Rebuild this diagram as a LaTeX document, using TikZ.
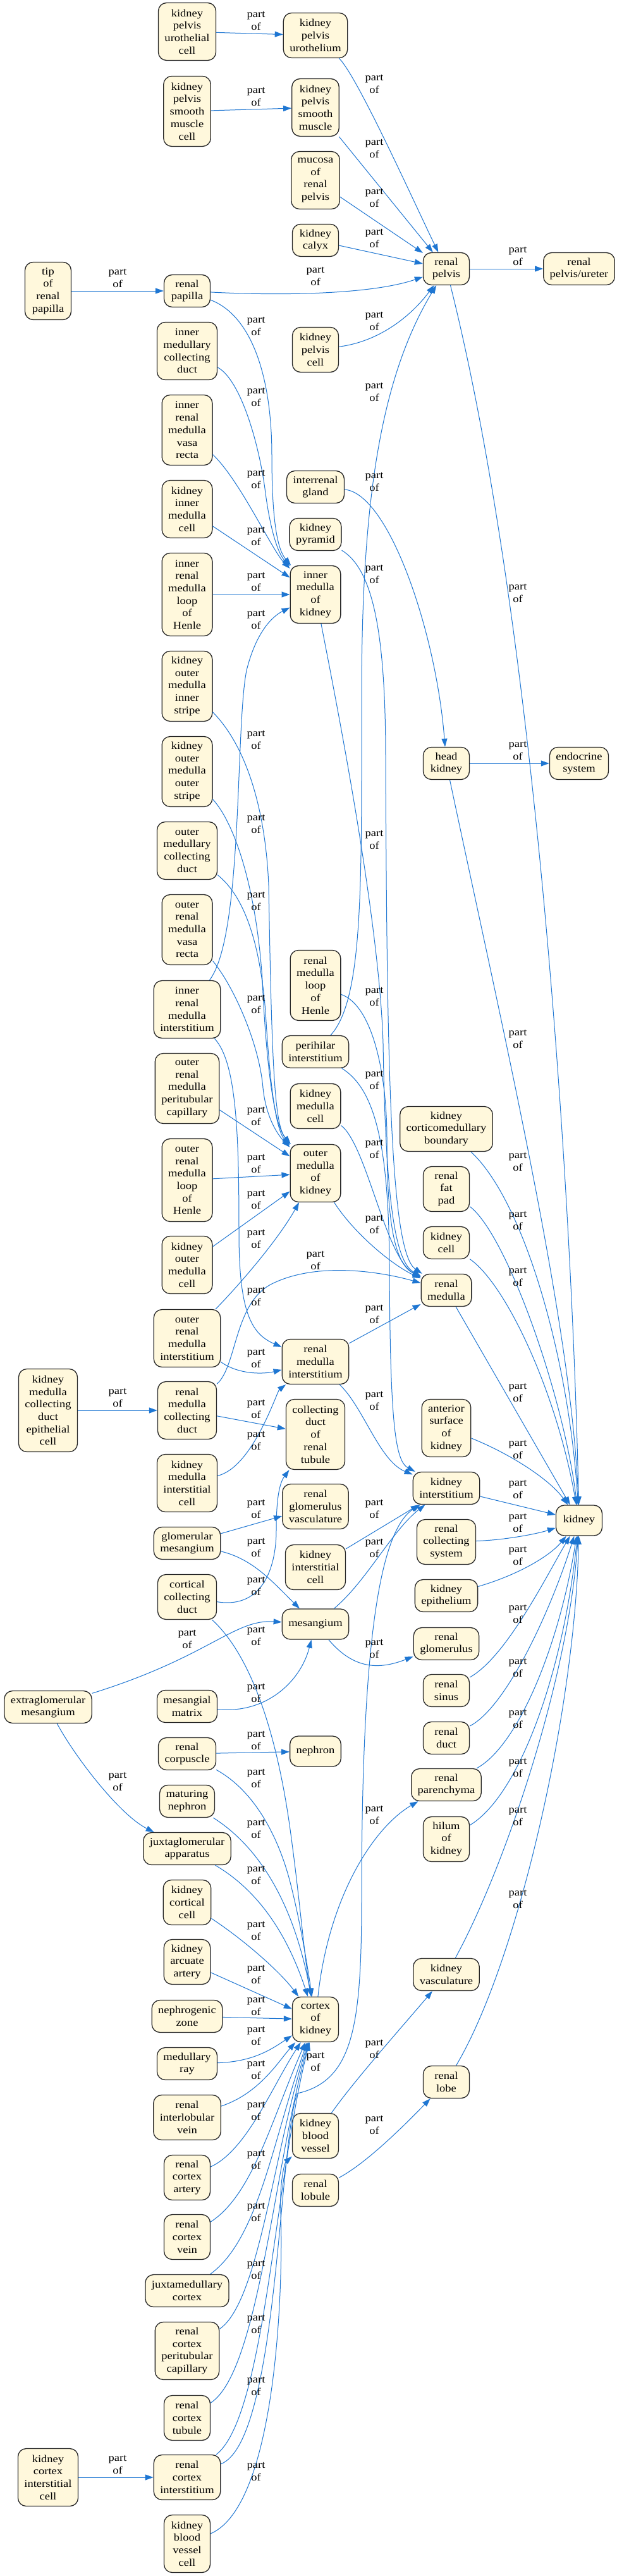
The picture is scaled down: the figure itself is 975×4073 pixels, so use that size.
\documentclass[tikz,border=0pt]{standalone}
\usepackage{fontspec}
\setmainfont{Liberation Serif}[FakeStretch=1.13]
\usetikzlibrary{arrows.meta}
\definecolor{ecol}{RGB}{30,118,210}
\definecolor{nfill}{RGB}{255,248,220}
\begin{document}
\begin{tikzpicture}[x=1pt,y=-1pt,
  nd/.style={draw=black!85, line width=1.3pt, fill=nfill, rounded corners=13pt, align=center, inner xsep=10pt, inner ysep=2pt, minimum width=73pt, minimum height=#1, font=\fontsize{16.4}{19.7}\selectfont},
  nd/.default=48pt,
  pe/.style={draw=ecol, line width=1pt, -{Triangle[length=13pt,width=9pt]}},
  lb/.style={align=center, inner sep=0pt, font=\fontsize{16.4}{19.7}\selectfont}]
\useasboundingbox (0,0) rectangle (975,4073);
\fill[white] (0,0) rectangle (975,4073);
% nodes
\node[nd=91pt] (kpuc) at (296,50) {kidney\\pelvis\\urothelial\\cell};
\node[nd=71pt] (kpu) at (499,56) {kidney\\pelvis\\urothelium};
\node[nd=111pt] (kpsmc) at (296,176) {kidney\\pelvis\\smooth\\muscle\\cell};
\node[nd=91pt] (kpsm) at (499,170) {kidney\\pelvis\\smooth\\muscle};
\node[nd=91pt] (mrp) at (499,285) {mucosa\\of\\renal\\pelvis};
\node[nd=51pt] (kcal) at (499,380) {kidney\\calyx};
\node[nd=51pt] (rp) at (706,425) {renal\\pelvis};
\node[nd=51pt] (rpu) at (916,425) {renal\\pelvis/ureter};
\node[nd=91pt] (tip) at (76,460) {tip\\of\\renal\\papilla};
\node[nd=51pt] (pap) at (296,460) {renal\\papilla};
\node[nd=71pt] (kpc) at (499,553) {kidney\\pelvis\\cell};
\node[nd=91pt] (imcd) at (296,555) {inner\\medullary\\collecting\\duct};
\node[nd=111pt] (irmvr) at (296,680) {inner\\renal\\medulla\\vasa\\recta};
\node[nd=51pt] (ig) at (499,770) {interrenal\\gland};
\node[nd=91pt] (kimc) at (296,805) {kidney\\inner\\medulla\\cell};
\node[nd=51pt] (kpyr) at (499,845) {kidney\\pyramid};
\node[nd=131pt] (irmlh) at (296,940) {inner\\renal\\medulla\\loop\\of\\Henle};
\node[nd=91pt] (imk) at (499,940) {inner\\medulla\\of\\kidney};
\node[nd=111pt] (komis) at (296,1085) {kidney\\outer\\medulla\\inner\\stripe};
\node[nd=51pt] (hk) at (706,1207) {head\\kidney};
\node[nd=51pt] (es) at (916,1207) {endocrine\\system};
\node[nd=111pt] (komos) at (296,1220) {kidney\\outer\\medulla\\outer\\stripe};
\node[nd=91pt] (omcd) at (296,1345) {outer\\medullary\\collecting\\duct};
\node[nd=111pt] (ormvr) at (296,1470) {outer\\renal\\medulla\\vasa\\recta};
\node[nd=111pt] (rmlh) at (499,1558) {renal\\medulla\\loop\\of\\Henle};
\node[nd=91pt] (irmi) at (296,1596) {inner\\renal\\medulla\\interstitium};
\node[nd=51pt] (pi) at (499,1663) {perihilar\\interstitium};
\node[nd=111pt] (ormpc) at (296,1721) {outer\\renal\\medulla\\peritubular\\capillary};
\node[nd=71pt] (kmc) at (499,1749) {kidney\\medulla\\cell};
\node[nd=71pt] (kcb) at (706,1785) {kidney\\corticomedullary\\boundary};
\node[nd=91pt] (omk) at (499,1855) {outer\\medulla\\of\\kidney};
\node[nd=131pt] (ormlh) at (296,1866) {outer\\renal\\medulla\\loop\\of\\Henle};
\node[nd=71pt] (rfp) at (706,1880) {renal\\fat\\pad};
\node[nd=51pt] (kc) at (706,1965) {kidney\\cell};
\node[nd=91pt] (komc) at (296,2000) {kidney\\outer\\medulla\\cell};
\node[nd=51pt] (rm) at (706,2040) {renal\\medulla};
\node[nd=91pt] (ormi) at (296,2116) {outer\\renal\\medulla\\interstitium};
\node[nd=71pt] (rmi) at (499,2153) {renal\\medulla\\interstitium};
\node[nd=131pt] (kmcdec) at (76,2230) {kidney\\medulla\\collecting\\duct\\epithelial\\cell};
\node[nd=91pt] (rmcd) at (296,2230) {renal\\medulla\\collecting\\duct};
\node[nd=111pt] (cdrt) at (499,2268) {collecting\\duct\\of\\renal\\tubule};
\node[nd=91pt] (ask) at (706,2258) {anterior\\surface\\of\\kidney};
\node[nd=91pt] (kmic) at (296,2345) {kidney\\medulla\\interstitial\\cell};
\node[nd=51pt] (ki) at (706,2353) {kidney\\interstitium};
\node[nd=71pt] (rgv) at (499,2382) {renal\\glomerulus\\vasculature};
\node[nd=48pt] (kid) at (916,2404) {kidney};
\node[nd=71pt] (rcs) at (706,2438) {renal\\collecting\\system};
\node[nd=51pt] (gm) at (296,2440) {glomerular\\mesangium};
\node[nd=71pt] (kic) at (499,2478) {kidney\\interstitial\\cell};
\node[nd=71pt] (ccd) at (296,2525) {cortical\\collecting\\duct};
\node[nd=51pt] (ke) at (706,2523) {kidney\\epithelium};
\node[nd=48pt] (mes) at (499,2568) {mesangium};
\node[nd=51pt] (rg) at (706,2599) {renal\\glomerulus};
\node[nd=51pt] (rs) at (706,2673) {renal\\sinus};
\node[nd=51pt] (egm) at (76,2699) {extraglomerular\\mesangium};
\node[nd=51pt] (mm) at (296,2698) {mesangial\\matrix};
\node[nd=51pt] (rd) at (706,2748) {renal\\duct};
\node[nd=51pt] (rc) at (296,2773) {renal\\corpuscle};
\node[nd=48pt] (neph) at (499,2769) {nephron};
\node[nd=51pt] (rpa) at (706,2822) {renal\\parenchyma};
\node[nd=51pt] (mn) at (296,2848) {maturing\\nephron};
\node[nd=71pt] (hil) at (706,2908) {hilum\\of\\kidney};
\node[nd=51pt] (jga) at (296,2923) {juxtaglomerular\\apparatus};
\node[nd=71pt] (kcc) at (296,3008) {kidney\\cortical\\cell};
\node[nd=71pt] (kaa) at (296,3102) {kidney\\arcuate\\artery};
\node[nd=51pt] (kv) at (706,3122) {kidney\\vasculature};
\node[nd=51pt] (nz) at (296,3188) {nephrogenic\\zone};
\node[nd=71pt] (ck) at (499,3193) {cortex\\of\\kidney};
\node[nd=51pt] (mr) at (296,3263) {medullary\\ray};
\node[nd=51pt] (rl) at (706,3292) {renal\\lobe};
\node[nd=71pt] (riv) at (296,3348) {renal\\interlobular\\vein};
\node[nd=71pt] (kbv) at (499,3377) {kidney\\blood\\vessel};
\node[nd=71pt] (rca) at (296,3443) {renal\\cortex\\artery};
\node[nd=51pt] (rlu) at (499,3463) {renal\\lobule};
\node[nd=71pt] (rcv) at (296,3537) {renal\\cortex\\vein};
\node[nd=51pt] (jmc) at (296,3622) {juxtamedullary\\cortex};
\node[nd=91pt] (rcpc) at (296,3717) {renal\\cortex\\peritubular\\capillary};
\node[nd=71pt] (rct) at (296,3823) {renal\\cortex\\tubule};
\node[nd=91pt] (kcic) at (76,3917) {kidney\\cortex\\interstitial\\cell};
\node[nd=71pt] (rci) at (296,3917) {renal\\cortex\\interstitium};
\node[nd=91pt] (kbvc) at (296,4022) {kidney\\blood\\vessel\\cell};
% straight edges
\draw[pe] (kpuc) -- (kpu);
\draw[pe] (kpsmc) -- (kpsm);
\draw[pe] (tip) -- (pap);
\draw[pe] (rp) -- (rpu);
\draw[pe] (hk) -- (es);
\draw[pe] (irmlh) -- (imk);
\draw[pe] (ormlh) -- (omk);
\draw[pe] (kmcdec) -- (rmcd);
\draw[pe] (rmcd) -- (cdrt);
\draw[pe] (rc) -- (neph);
\draw[pe] (nz) -- (ck);
\draw[pe] (kcic) -- (rci);
\draw[pe] (kcal) -- (rp);
\draw[pe] (kimc) -- (imk);
\draw[pe] (ormpc) -- (omk);
\draw[pe] (komc) -- (omk);
\draw[pe] (gm) -- (rgv);
\draw[pe] (kic) -- (ki);
\draw[pe] (kaa) -- (ck);
\draw[pe] (ki) -- (kid);
\draw[pe] (rm) -- (kid);
\draw[pe] (kpsm) -- (rp);
\draw[pe] (mrp) -- (rp);
\draw[pe] (rmi) -- (rm);
\draw[pe] (kbv) .. controls (560,3290) and (640,3200) .. (kv);
\draw[pe] (rlu) .. controls (580,3420) and (640,3360) .. (rl);
% curved edges
\draw[pe] (kpu) .. controls (565,120) and (655,320) .. (rp);
\draw[pe] (pap) .. controls (450,468) and (590,465) .. (rp);
\draw[pe] (kpc) .. controls (600,540) and (650,500) .. (rp);
\draw[pe] (ig) .. controls (615,780) and (690,1000) .. (hk);
\draw[pe] (kpyr) .. controls (590,900) and (610,1000) .. (610,1200) .. controls (612,1700) and (618,1980) .. (rm);
\draw[pe] (imk) .. controls (530,1100) and (600,1450) .. (606,1650) .. controls (610,1900) and (625,1995) .. (rm);
\draw[pe] (rmlh) .. controls (590,1590) and (612,1700) .. (612,1800) .. controls (612,1950) and (628,2000) .. (rm);
\draw[pe] (pi) .. controls (590,1720) and (615,1800) .. (616,2000) .. controls (617,2250) and (625,2310) .. (ki);
\draw[pe] (kmc) .. controls (580,1810) and (610,1990) .. (rm);
\draw[pe] (omk) .. controls (560,1950) and (620,2000) .. (rm);
\draw[pe] (rmcd) .. controls (375,2160) and (370,2060) .. (430,2030) .. controls (500,1995) and (600,2010) .. (rm);
\draw[pe] (rmi) .. controls (575,2225) and (600,2310) .. (ki);
\draw[pe] (irmi) .. controls (375,1680) and (378,1800) .. (378,1950) .. controls (378,2080) and (400,2110) .. (rmi);
\draw[pe] (irmi) .. controls (385,1480) and (372,1150) .. (390,1060) .. controls (405,1000) and (430,975) .. (imk);
\draw[pe] (pap) .. controls (400,500) and (430,600) .. (430,720) .. controls (430,830) and (440,870) .. (imk);
\draw[pe] (imcd) .. controls (380,600) and (410,700) .. (420,780) .. controls (428,840) and (440,875) .. (imk);
\draw[pe] (irmvr) .. controls (380,760) and (430,870) .. (imk);
\draw[pe] (komis) .. controls (390,1180) and (420,1280) .. (425,1400) .. controls (430,1700) and (435,1780) .. (omk);
\draw[pe] (komos) .. controls (370,1300) and (405,1400) .. (415,1550) .. controls (422,1700) and (435,1780) .. (omk);
\draw[pe] (omcd) .. controls (390,1420) and (412,1500) .. (420,1600) .. controls (426,1700) and (435,1785) .. (omk);
\draw[pe] (ormvr) .. controls (370,1560) and (410,1650) .. (416,1720) .. controls (420,1760) and (435,1790) .. (omk);
\draw[pe] (ormi) .. controls (380,2030) and (440,1960) .. (omk);
\draw[pe] (ormi) .. controls (380,2175) and (420,2172) .. (rmi);
\draw[pe] (kmic) .. controls (400,2320) and (438,2200) .. (rmi);
\draw[pe] (ccd) .. controls (420,2545) and (437,2470) .. (437,2420) .. controls (437,2370) and (442,2345) .. (cdrt);
\draw[pe] (gm) .. controls (400,2465) and (430,2500) .. (mes);
\draw[pe] (egm) .. controls (330,2620) and (370,2560) .. (mes);
\draw[pe] (egm) .. controls (120,2780) and (190,2870) .. (jga);
\draw[pe] (mm) .. controls (420,2710) and (475,2660) .. (mes);
\draw[pe] (mes) .. controls (560,2640) and (600,2640) .. (rg);
\draw[pe] (mes) .. controls (580,2500) and (620,2420) .. (ki);
\draw[pe] (ccd) .. controls (400,2620) and (440,2750) .. (460,2900) .. controls (475,3010) and (482,3100) .. (ck);
\draw[pe] (rc) .. controls (400,2830) and (440,2900) .. (460,2980) .. controls (475,3040) and (485,3100) .. (ck);
\draw[pe] (mn) .. controls (410,2920) and (465,3010) .. (ck);
\draw[pe] (jga) .. controls (410,2990) and (455,3060) .. (ck);
\draw[pe] (kcc) .. controls (390,3070) and (445,3120) .. (ck);
\draw[pe] (mr) .. controls (400,3260) and (430,3240) .. (ck);
\draw[pe] (riv) .. controls (410,3310) and (440,3260) .. (ck);
\draw[pe] (rca) .. controls (390,3400) and (430,3300) .. (ck);
\draw[pe] (rcv) .. controls (400,3470) and (430,3350) .. (ck);
\draw[pe] (jmc) .. controls (410,3540) and (432,3380) .. (ck);
\draw[pe] (rcpc) .. controls (410,3640) and (433,3400) .. (ck);
\draw[pe] (rct) .. controls (410,3750) and (434,3420) .. (ck);
\draw[pe] (rci) .. controls (420,3820) and (435,3440) .. (ck);
\draw[pe] (kbvc) .. controls (440,3960) and (448,3600) .. (444,3500) .. controls (442,3450) and (450,3420) .. (kbv);
\draw[pe] (rci) .. controls (440,3860) and (440,3400) .. (470,3310) .. controls (560,3290) and (572,3200) .. (572,3000) .. controls (572,2600) and (600,2420) .. (ki);
\draw[pe] (ck) .. controls (520,3000) and (590,2890) .. (rpa);
\draw[pe] (pi) .. controls (575,1580) and (572,1400) .. (572,1100) .. controls (572,800) and (600,600) .. (rp);
% into kidney
\draw[pe] (rs) .. controls (800,2620) and (860,2500) .. (kid);
\draw[pe] (rd) .. controls (800,2700) and (870,2550) .. (kid);
\draw[pe] (rpa) .. controls (820,2760) and (885,2600) .. (kid);
\draw[pe] (hil) .. controls (820,2840) and (890,2650) .. (kid);
\draw[pe] (kv) .. controls (800,2950) and (900,2650) .. (kid);
\draw[pe] (rl) .. controls (820,3100) and (910,2700) .. (kid);
\draw[pe] (ke) .. controls (820,2490) and (870,2460) .. (kid);
\draw[pe] (rcs) .. controls (800,2435) and (850,2425) .. (kid);
\draw[pe] (ask) .. controls (810,2300) and (870,2340) .. (kid);
\draw[pe] (kc) .. controls (800,2030) and (880,2200) .. (kid);
\draw[pe] (rfp) .. controls (800,1950) and (890,2200) .. (kid);
\draw[pe] (kcb) .. controls (830,1900) and (900,2150) .. (kid);
\draw[pe] (hk) .. controls (800,1650) and (905,2100) .. (kid);
\draw[pe] (rp) .. controls (850,1000) and (905,1900) .. (kid);
% labels
\foreach \p in {(405,33),(405,153),(592,133),(592,235),(592,313),(592,377),(819,405),(186,440),(499,437),(592,508),(405,516),(405,628),(592,620),(405,758),(592,762),(405,848),(592,908),(405,920),(819,938),(405,980),(405,1170),(819,1187),(405,1303),(592,1328),(405,1425),(592,1576),(405,1588),(819,1643),(592,1708),(405,1765),(592,1817),(819,1837),(405,1840),(405,1897),(819,1930),(592,1936),(405,1959),(499,1993),(819,2019),(405,2050),(592,2078),(405,2148),(186,2210),(405,2228),(592,2215),(819,2202),(405,2278),(819,2292),(819,2355),(405,2386),(592,2386),(819,2408),(405,2447),(592,2448),(819,2460),(405,2508),(819,2552),(405,2587),(296,2592),(592,2607),(819,2637),(405,2677),(819,2718),(405,2752),(819,2795),(405,2812),(186,2817),(592,2870),(819,2872),(405,2892),(405,2965),(819,3003),(405,3053),(405,3122),(405,3172),(405,3219),(592,3240),(499,3260),(405,3273),(405,3338),(592,3360),(405,3415),(405,3498),(405,3589),(405,3675),(405,3773),(186,3897),(405,3908)}
  \node[lb] at \p {part\\of};
\end{tikzpicture}
\end{document}
